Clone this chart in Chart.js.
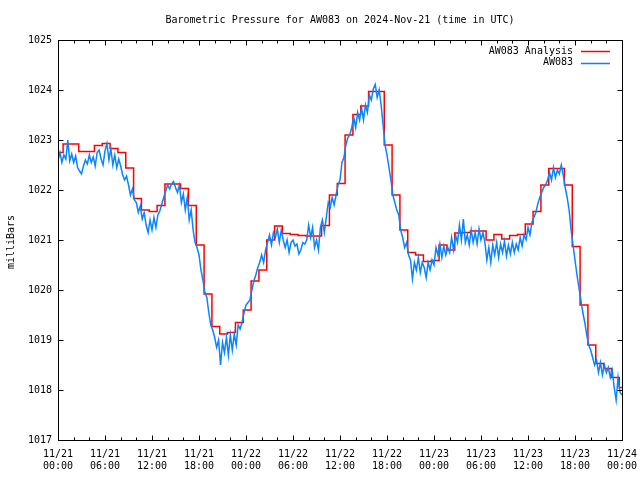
<!DOCTYPE html>
<html>
<head>
<meta charset="utf-8">
<title>Barometric Pressure for AW083</title>
<script src="https://cdn.jsdelivr.net/npm/chart.js@4.4.1/dist/chart.umd.min.js"></script>
<style>
  html, body { margin: 0; padding: 0; background: #fff; }
  #wrap { width: 640px; height: 480px; }
</style>
</head>
<body>
<div id="wrap"><canvas id="pressureChart" width="640" height="480"></canvas></div>
<script>
// x axis is hours since 11/21 00:00 UTC
const tickDays  = ['11/21', '11/21', '11/21', '11/21', '11/22', '11/22', '11/22', '11/22', '11/23', '11/23', '11/23', '11/23', '11/24'];
const tickTimes = ['00:00', '06:00', '12:00', '18:00', '00:00', '06:00', '12:00', '18:00', '00:00', '06:00', '12:00', '18:00', '00:00'];

// hourly analysis, first value is the partial hour before the first step
const analysisStart = 0.65;
const analysisValues = [
  1022.75,
  1022.92, 1022.92, 1022.77, 1022.77, 1022.89, 1022.93, 1022.83, 1022.75, 1022.44, 1021.83, 1021.60, 1021.57,
  1021.69, 1022.12, 1022.12, 1022.03, 1021.69, 1020.90, 1019.92, 1019.27, 1019.12, 1019.15, 1019.35, 1019.60,
  1020.18, 1020.40, 1021.00, 1021.28, 1021.13, 1021.11, 1021.09, 1021.08, 1021.08, 1021.29, 1021.90, 1022.13,
  1023.10, 1023.51, 1023.68, 1023.97, 1023.97, 1022.90, 1021.90, 1021.20, 1020.75, 1020.70, 1020.57, 1020.59,
  1020.90, 1020.80, 1021.14, 1021.15, 1021.18, 1021.18, 1021.00, 1021.11, 1021.02, 1021.09, 1021.11, 1021.32,
  1021.57, 1022.10, 1022.43, 1022.43, 1022.10, 1020.87, 1019.70, 1018.90, 1018.53, 1018.43, 1018.25, 1018.05
];

// station observations every 15 minutes, one row = 3 hours
const obsStep = 0.25;
const obsValues = [
  1022.60, 1022.75, 1022.55, 1022.70, 1022.62, 1023.00, 1022.58, 1022.72, 1022.55, 1022.68, 1022.45, 1022.38,
  1022.32, 1022.48, 1022.60, 1022.52, 1022.70, 1022.55, 1022.66, 1022.48, 1022.75, 1022.80, 1022.62, 1022.50,
  1022.78, 1022.93, 1022.60, 1022.82, 1022.50, 1022.70, 1022.45, 1022.62, 1022.48, 1022.30, 1022.20, 1022.28,
  1022.10, 1021.90, 1022.02, 1021.80, 1021.75, 1021.55, 1021.68, 1021.42, 1021.55, 1021.30, 1021.15, 1021.40,
  1021.20, 1021.45, 1021.25, 1021.50, 1021.58, 1021.72, 1021.85, 1021.98, 1022.10, 1022.02, 1022.12, 1022.17,
  1022.05, 1021.95, 1022.10, 1021.75, 1021.92, 1021.60, 1021.85, 1021.40, 1021.60, 1021.20, 1020.95, 1020.85,
  1020.70, 1020.40, 1020.20, 1019.95, 1019.85, 1019.55, 1019.30, 1019.20, 1019.05, 1018.85, 1019.00, 1018.50,
  1018.95, 1018.75, 1019.05, 1018.70, 1019.10, 1018.80, 1019.12, 1018.90, 1019.30, 1019.22, 1019.35, 1019.55,
  1019.70, 1019.75, 1019.80, 1020.00, 1020.18, 1020.30, 1020.45, 1020.55, 1020.70, 1020.55, 1020.80, 1020.95,
  1021.10, 1020.90, 1021.15, 1021.05, 1021.22, 1020.95, 1021.20, 1021.00, 1020.85, 1021.00, 1020.75, 1020.95,
  1021.00, 1020.88, 1020.92, 1020.72, 1020.80, 1020.95, 1020.92, 1021.00, 1021.30, 1021.05, 1021.25, 1020.85,
  1021.00, 1020.80, 1021.25, 1021.40, 1021.15, 1021.45, 1021.75, 1021.65, 1021.85, 1021.70, 1021.90, 1022.10,
  1022.20, 1022.55, 1022.65, 1022.90, 1023.05, 1023.10, 1023.25, 1023.45, 1023.25, 1023.55, 1023.40, 1023.65,
  1023.40, 1023.70, 1023.55, 1023.90, 1023.80, 1024.02, 1024.11, 1023.85, 1024.00, 1023.70, 1023.30, 1022.90,
  1022.70, 1022.45, 1022.20, 1021.90, 1021.75, 1021.60, 1021.50, 1021.20, 1021.05, 1020.85, 1020.95, 1020.70,
  1020.60, 1020.22, 1020.55, 1020.40, 1020.65, 1020.35, 1020.55, 1020.45, 1020.25, 1020.55, 1020.40, 1020.60,
  1020.50, 1020.85, 1020.70, 1020.92, 1020.65, 1020.88, 1020.70, 1020.85, 1020.75, 1021.05, 1020.80, 1021.10,
  1020.95, 1021.30, 1021.00, 1021.42, 1020.95, 1021.10, 1020.90, 1021.20, 1020.95, 1021.15, 1020.92, 1021.22,
  1021.00, 1021.15, 1020.95, 1020.60, 1020.85, 1020.55, 1020.90, 1020.70, 1020.95, 1020.65, 1020.92, 1020.75,
  1020.98, 1020.68, 1020.90, 1020.72, 1020.95, 1020.75, 1020.92, 1020.80, 1021.05, 1020.88, 1021.10, 1021.00,
  1021.25, 1021.10, 1021.35, 1021.45, 1021.55, 1021.72, 1021.85, 1021.95, 1022.05, 1022.10, 1022.20, 1022.35,
  1022.20, 1022.45, 1022.25, 1022.40, 1022.32, 1022.50, 1022.30, 1022.05, 1021.85, 1021.60, 1021.20, 1020.90,
  1020.60, 1020.30, 1020.05, 1019.80, 1019.55, 1019.35, 1019.10, 1018.90, 1018.80, 1018.65, 1018.50, 1018.60,
  1018.35, 1018.55, 1018.30, 1018.50, 1018.35, 1018.45, 1018.25, 1018.40, 1018.05, 1017.80, 1018.25, 1017.95,
  1017.90
];

(function() {
    const FONT = '"DejaVu Sans Mono", "Liberation Mono", monospace';
    const RED = '#ff0000';
    const BLUE = '#0a84ff';

    // step points: value i is held from its time until the next one
    const analysisPoints = analysisValues.map((v, i) => ({ x: i === 0 ? 0 : analysisStart + i - 1, y: v }));
    analysisPoints.push({ x: 72, y: analysisValues[analysisValues.length - 1] });

    const obsPoints = obsValues.map((v, i) => ({ x: i * obsStep, y: v }));

    // gnuplot style frame, ticks, title, legend
    const gnuplotDecor = {
        id: 'gnuplotDecor',
        afterDraw: function(chart) {
            const ctx = chart.ctx;
            const a = chart.chartArea;
            const xs = chart.scales.x, ys = chart.scales.y;
            const L = Math.round(a.left) + 0.5, R = Math.round(a.right) + 0.5;
            const T = Math.round(a.top) + 0.5, B = Math.round(a.bottom) + 0.5;

            ctx.save();
            ctx.strokeStyle = '#000';
            ctx.lineWidth = 1;
            ctx.strokeRect(L, T, R - L, B - T);

            ctx.beginPath();
            for (let h = 0; h <= 72; h += 2) {
                const x = Math.round(xs.getPixelForValue(h)) + 0.5;
                const len = (h % 6 === 0) ? 5 : 3;
                ctx.moveTo(x, B); ctx.lineTo(x, B - len);
                ctx.moveTo(x, T); ctx.lineTo(x, T + len);
            }
            for (let p = 1017; p <= 1025; p++) {
                const y = Math.round(ys.getPixelForValue(p)) + 0.5;
                ctx.moveTo(L, y); ctx.lineTo(L + 5, y);
                ctx.moveTo(R, y); ctx.lineTo(R - 5, y);
            }
            ctx.stroke();

            ctx.fillStyle = '#000';
            ctx.font = '10px ' + FONT;
            ctx.textAlign = 'center';
            ctx.textBaseline = 'middle';
            ctx.fillText('Barometric Pressure for AW083 on 2024-Nov-21 (time in UTC)', (a.left + a.right) / 2, 20);

            ctx.save();
            ctx.translate(11, 242);
            ctx.rotate(-Math.PI / 2);
            ctx.fillText('milliBars', 0, 0);
            ctx.restore();

            // legend
            const rows = [['AW083 Analysis', RED], ['AW083', BLUE]];
            ctx.textAlign = 'right';
            rows.forEach(function(r, i) {
                const y = 51 + i * 11.5;
                ctx.fillStyle = '#000';
                ctx.fillText(r[0], 573, y);
                ctx.strokeStyle = r[1];
                ctx.lineWidth = 1.5;
                ctx.beginPath();
                ctx.moveTo(581, Math.round(y) + 0.5);
                ctx.lineTo(610, Math.round(y) + 0.5);
                ctx.stroke();
            });
            ctx.restore();
        }
    };

    const el = document.getElementById('pressureChart');
    new Chart(el, {
        type: 'line',
        data: {
            datasets: [{
                label: 'AW083 Analysis',
                data: analysisPoints,
                borderColor: RED,
                borderWidth: 1.5,
                stepped: true,
                pointRadius: 0,
                fill: false,
                order: 2
            }, {
                label: 'AW083',
                data: obsPoints,
                borderColor: BLUE,
                borderWidth: 1.5,
                pointRadius: 0,
                tension: 0,
                fill: false,
                order: 1
            }]
        },
        options: {
            responsive: false,
            animation: false,
            events: [],
            layout: { padding: { top: 40, right: 18, left: 0, bottom: 0 } },
            plugins: {
                legend: { display: false },
                title: { display: false },
                tooltip: { enabled: false }
            },
            scales: {
                x: {
                    type: 'linear',
                    min: 0,
                    max: 72,
                    grid: { display: false, drawTicks: false },
                    border: { display: false },
                    ticks: {
                        stepSize: 6,
                        autoSkip: false,
                        maxRotation: 0,
                        padding: 8,
                        color: '#000',
                        font: { family: FONT, size: 10 },
                        callback: function(v) {
                            const i = Math.round(v / 6);
                            return [tickDays[i], tickTimes[i]];
                        }
                    },
                    afterFit: function(s) {
                        s.height = 40;
                        s.paddingLeft = 0;
                        s.paddingRight = 0;
                    }
                },
                y: {
                    min: 1017,
                    max: 1025,
                    grid: { display: false, drawTicks: false },
                    border: { display: false },
                    ticks: {
                        stepSize: 1,
                        padding: 6,
                        color: '#000',
                        font: { family: FONT, size: 10 },
                        callback: function(v) { return String(v); }
                    },
                    afterFit: function(s) {
                        s.width = 58;
                        s.paddingTop = 0;
                        s.paddingBottom = 0;
                    }
                }
            }
        },
        plugins: [gnuplotDecor]
    });
})();
</script>
</body>
</html>
